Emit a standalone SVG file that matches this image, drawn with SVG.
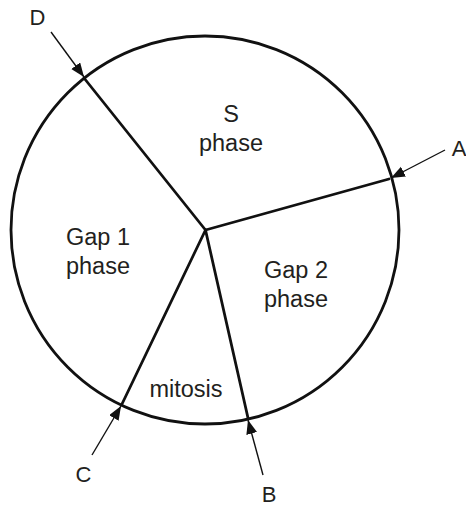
<svg xmlns="http://www.w3.org/2000/svg" width="466" height="507" viewBox="0 0 466 507">
<defs>
<style>
.t{font-family:"Liberation Sans",Arial,sans-serif;font-size:23.5px;fill:#231f20;text-anchor:middle}
.l{font-family:"Liberation Sans",Arial,sans-serif;font-size:22px;fill:#231f20;text-anchor:middle}
.s{stroke:#111;stroke-width:2.8;fill:none;stroke-linecap:round}
.a{stroke:#111;stroke-width:1.4;fill:none}
</style>
<marker id="ah" markerUnits="userSpaceOnUse" markerWidth="15" markerHeight="12" refX="14" refY="5.5" orient="auto">
<path d="M0,0 L14,5.5 L0,11 Z" fill="#111"/>
</marker>
</defs>
<g id="cycle">
<circle cx="205" cy="230" r="194" class="s"/>
</g>
<g id="spokes">
<line x1="205.5" y1="230" x2="84" y2="78" class="s"/>
<line x1="205.5" y1="230" x2="389" y2="179" class="s"/>
<line x1="205.5" y1="230" x2="122" y2="404" class="s"/>
<line x1="205.5" y1="230" x2="248" y2="418" class="s"/>
</g>
<g id="s-phase"><text class="t" x="231" y="122">S</text><text class="t" x="231" y="151">phase</text></g>
<g id="gap1"><text class="t" x="98" y="245">Gap 1</text><text class="t" x="98" y="274">phase</text></g>
<g id="gap2"><text class="t" x="296" y="278">Gap 2</text><text class="t" x="296" y="307">phase</text></g>
<g id="mitosis"><text class="t" x="186" y="397">mitosis</text></g>
<g id="connectors">
<line x1="51" y1="32" x2="84" y2="77" class="a" marker-end="url(#ah)"/>
<line x1="445" y1="150" x2="391" y2="178" class="a" marker-end="url(#ah)"/>
<line x1="92" y1="455" x2="121" y2="406" class="a" marker-end="url(#ah)"/>
<line x1="263" y1="475" x2="248" y2="420" class="a" marker-end="url(#ah)"/>
</g>
<g id="label-D"><text class="l" x="37.5" y="25">D</text></g>
<g id="label-A"><text class="l" x="459" y="156">A</text></g>
<g id="label-C"><text class="l" x="83.5" y="482">C</text></g>
<g id="label-B"><text class="l" x="269" y="502">B</text></g>
</svg>
